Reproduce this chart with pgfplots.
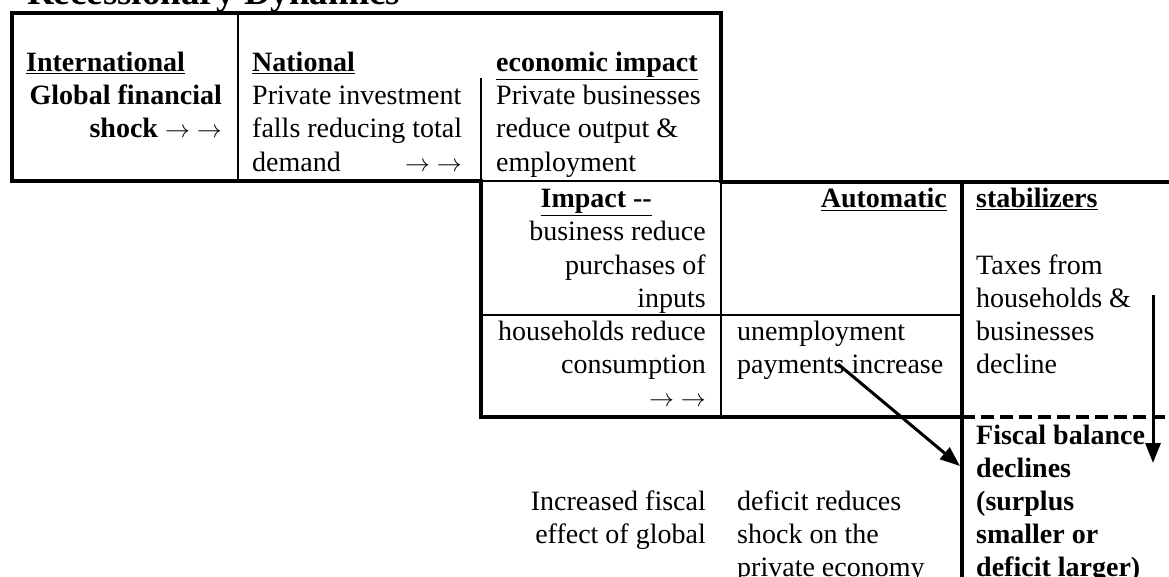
\documentclass[border=0pt]{standalone}
\usepackage{pgfplots}
\pgfplotsset{compat=1.18}
\usetikzlibrary{arrows.meta}
\usepackage{fontspec}
\setmainfont{Liberation Serif}
\begin{document}
\begin{tikzpicture}[t/.style={inner sep=0pt, font=\fontsize{28}{33}\selectfont}]
\begin{axis}[hide axis, scale only axis, width=1169pt, height=577pt,
  xmin=0, xmax=1169, ymin=0, ymax=577, y dir=reverse, clip=false]
\coordinate (BL) at (axis cs:0,577);
\coordinate (TR) at (axis cs:1169,0);
% top box
\addplot[black, line width=4pt, mark=none] coordinates {(481,181) (12,181) (12,13) (721,13) (721,183)};
\addplot[black, line width=1.5pt, mark=none] coordinates {(238,13) (238,181)};
\addplot[black, line width=1.5pt, mark=none] coordinates {(481,78) (481,181)};
\addplot[black, line width=2.5pt, mark=none] coordinates {(481,181) (721,181)};
% second row
\addplot[black, line width=4pt, mark=none] coordinates {(721,182) (1169,182)};
\addplot[black, line width=4pt, mark=none] coordinates {(481,179) (481,417) (962,417)};
\addplot[black, line width=2.5pt, mark=none] coordinates {(721,181) (721,417)};
\addplot[black, line width=2.5pt, mark=none] coordinates {(481,315) (962,315)};
\addplot[black, line width=4pt, mark=none] coordinates {(962,180) (962,577)};
\addplot[black, line width=4pt, mark=none, dash pattern=on 13pt off 6pt] coordinates {(962,417) (1169,417)};
% arrows
\addplot[black, line width=3pt, mark=none, -{Triangle[length=20pt,width=15pt]}] coordinates {(838,364) (960,466)};
\addplot[black, line width=3pt, mark=none, -{Triangle[length=20pt,width=15pt]}] coordinates {(1153,295) (1153,463)};
% title
\node[anchor=base west, inner sep=0pt, font=\fontsize{37}{40}\selectfont\bfseries] at (axis cs:27,5) {Recessionary Dynamics};
% row 1 texts
\node[t, anchor=base west] at (axis cs:26,72) {\underline{\textbf{International}}};
\node[t, anchor=base east] at (axis cs:222,105) {\textbf{Global financial}};
\node[t, anchor=base east] at (axis cs:222,138) {\textbf{shock $\rightarrow$ $\rightarrow$}};
\node[t, anchor=base west] at (axis cs:252,72) {\underline{\textbf{National}}};
\node[t, anchor=base west] at (axis cs:252,105) {Private investment};
\node[t, anchor=base west] at (axis cs:252,138) {falls reducing total};
\node[t, anchor=base west] at (axis cs:252,172) {demand};
\node[t, anchor=base east] at (axis cs:462,172) {$\rightarrow$ $\rightarrow$};
\node[t, anchor=base west] at (axis cs:496,72) {\underline{\textbf{economic impact}}};
\node[t, anchor=base west] at (axis cs:496,105) {Private businesses};
\node[t, anchor=base west] at (axis cs:496,138) {reduce output \&};
\node[t, anchor=base west] at (axis cs:496,172) {employment};
% row 2 texts
\node[t, anchor=base east] at (axis cs:652,208) {\underline{\textbf{Impact -{}-}}};
\node[t, anchor=base east] at (axis cs:706,241) {business reduce};
\node[t, anchor=base east] at (axis cs:706,274) {purchases of};
\node[t, anchor=base east] at (axis cs:706,307) {inputs};
\node[t, anchor=base east] at (axis cs:706,340) {households reduce};
\node[t, anchor=base east] at (axis cs:706,373) {consumption};
\node[t, anchor=base east] at (axis cs:706,406) {$\rightarrow$ $\rightarrow$};
\node[t, anchor=base east] at (axis cs:947,208) {\underline{\textbf{Automatic}}};
\node[t, anchor=base west] at (axis cs:737,340) {unemployment};
\node[t, anchor=base west] at (axis cs:737,373) {payments increase};
\node[t, anchor=base west] at (axis cs:976,208) {\underline{\textbf{stabilizers}}};
\node[t, anchor=base west] at (axis cs:976,274) {Taxes from};
\node[t, anchor=base west] at (axis cs:976,307) {households \&};
\node[t, anchor=base west] at (axis cs:976,340) {businesses};
\node[t, anchor=base west] at (axis cs:976,373) {decline};
% row 3 texts
\node[t, anchor=base west] at (axis cs:976,444) {\textbf{Fiscal balance}};
\node[t, anchor=base west] at (axis cs:976,477) {\textbf{declines}};
\node[t, anchor=base west] at (axis cs:976,510) {\textbf{(surplus}};
\node[t, anchor=base west] at (axis cs:976,543) {\textbf{smaller or}};
\node[t, anchor=base west] at (axis cs:976,576) {\textbf{deficit larger)}};
\node[t, anchor=base east] at (axis cs:706,510) {Increased fiscal};
\node[t, anchor=base east] at (axis cs:706,543) {effect of global};
\node[t, anchor=base west] at (axis cs:737,510) {deficit reduces};
\node[t, anchor=base west] at (axis cs:737,543) {shock on the};
\node[t, anchor=base west] at (axis cs:737,576) {private economy};
\end{axis}
\pgfresetboundingbox
\useasboundingbox (BL) rectangle (TR);
\end{tikzpicture}
\end{document}
